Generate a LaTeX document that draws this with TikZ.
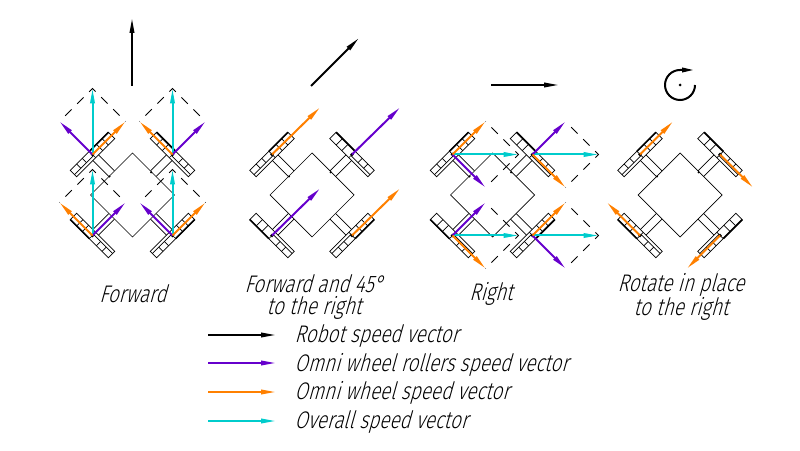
\documentclass[tikz,border=0pt]{standalone}
\usepackage{fontspec}
\setmainfont[UprightFont=* Light,FakeSlant=0.28,FakeStretch=0.79]{Fira Sans}
\usetikzlibrary{arrows.meta,calc}
\definecolor{rollcol}{RGB}{102,0,204}
\definecolor{omnicol}{RGB}{255,128,0}
\definecolor{allcol}{RGB}{0,204,204}
\tikzset{
    part/.style={draw, line width=0.7pt},
    heavy/.style={draw, line width=1.6pt},
    vecarrow/.style={-{Triangle[length=15pt,width=4.5pt]}, line width=2pt},
    robotvec/.style={vecarrow, black},
    rollvec/.style={vecarrow, rollcol},
    omnivec/.style={vecarrow, omnicol},
    allvec/.style={vecarrow, allcol},
    dashbox/.style={draw, line width=0.8pt, dash pattern=on 9pt off 8pt, dash phase=9pt},
    caption/.style={font=\fontsize{24}{22}\selectfont, align=center, inner sep=0pt},
    legendtext/.style={caption, anchor=west},
    wheelunit/.pic={
        \draw[part] (-27,-4.5) rectangle (27,4.5);
        \draw[heavy] (0,4.5) -- (27,4.5);
        \draw[part] (-27,-1.5) -- (0,-1.5);
        \draw[part] (-18,-1.5) -- (-18,4.5) (-10,-1.5) -- (-10,4.5) (0,-4.5) -- (0,4.5) (10,-4.5) -- (10,4.5) (18,-4.5) -- (18,4.5);
        \draw[part] (-4,-4.5) -- (-4,-27) (4,-4.5) -- (4,-27);
    },
    robotbody/.pic={
        \coordinate (-tl) at (-40,40.5);
        \coordinate (-tr) at (40,40.5);
        \coordinate (-bl) at (-40,-40.5);
        \coordinate (-br) at (40,-40.5);
        \draw[part] (-42,0) -- (0,42) -- (42,0) -- (0,-42) -- cycle;
        \path (-tl) pic[rotate=45] {wheelunit};
        \path (-tr) pic[rotate=135,yscale=-1] {wheelunit};
        \path (-bl) pic[rotate=135] {wheelunit};
        \path (-br) pic[rotate=45,yscale=-1] {wheelunit};
        \foreach \hub in {-tl,-tr,-bl,-br} \fill (\hub) circle (1.8);
        \fill (-23,18.5) circle (1.2) (18.7,22.7) circle (1.2);
    }
}
% one speed vector out of a wheel hub
\newcommand{\speedvec}[4]{
    \coordinate (#2-#1) at ($(#2)+(#3,#4)$);
    \draw[#1vec] (#2) -- (#2-#1);
}

\begin{document}
\begin{tikzpicture}[x=1pt,y=1pt]
\useasboundingbox (0,0) rectangle (800,450);

\path (132.5,255) pic (fwd) {robotbody};
\path (312,255) pic (diag) {robotbody};
\path (492.5,255) pic (rgt) {robotbody};
\path (680,255) pic (rot) {robotbody};

% forward
\coordinate (fwdstart) at (132,364);
\coordinate (fwdend) at (132,432);
\draw[robotvec] (fwdstart) -- (fwdend);
\foreach \hub/\rx/\ox in {tl/-33/33, tr/33/-33, bl/33/-33, br/-33/33}{
    \speedvec{all}{fwd-\hub}{0}{66}
    \speedvec{roll}{fwd-\hub}{\rx}{33}
    \speedvec{omni}{fwd-\hub}{\ox}{33}
    \draw[dashbox] (fwd-\hub-roll) -- (fwd-\hub-all) -- (fwd-\hub-omni);
}

% forward and 45
\coordinate (diagstart) at (311,364);
\coordinate (diagend) at (359,412);
\draw[robotvec] (diagstart) -- (diagend);
\speedvec{omni}{diag-tl}{48}{47}
\speedvec{roll}{diag-tr}{48}{47}
\speedvec{roll}{diag-bl}{48}{47}
\speedvec{omni}{diag-br}{48}{47}

% right
\coordinate (rgtstart) at (491,365);
\coordinate (rgtend) at (559,365);
\draw[robotvec] (rgtstart) -- (rgtend);
\foreach \hub/\ry/\oy in {tl/-33/33, tr/33/-33, bl/33/-33, br/-33/33}{
    \speedvec{all}{rgt-\hub}{66}{0}
    \speedvec{roll}{rgt-\hub}{33}{\ry}
    \speedvec{omni}{rgt-\hub}{33}{\oy}
    \draw[dashbox] (rgt-\hub-roll) -- (rgt-\hub-all) -- (rgt-\hub-omni);
}

% rotate
\coordinate (spincentre) at (680,365);
\coordinate (spinstart) at (695,365);
\coordinate (spinend) at (694,380);
\fill (spincentre) circle (1.5);
\draw[robotvec,-{Triangle[length=12pt,width=4.5pt]}] (spinstart) arc[start angle=0,end angle=-270,radius=15] -- (spinend);
\speedvec{omni}{rot-tl}{33}{33}
\speedvec{omni}{rot-tr}{33}{-33}
\speedvec{omni}{rot-bl}{-33}{33}
\speedvec{omni}{rot-br}{-33}{-33}

% captions
\node[caption] (fwdlabel) at (133,156) {Forward};
\node[caption] (diaglabel) at (314,153) {Forward and 45°\\to the right};
\node[caption] (rgtlabel) at (491,156) {Right};
\node[caption] (rotlabel) at (681,153) {Rotate in place\\to the right};

% legend
\node[legendtext] (robotlegend) at (294.5,113.5) {Robot speed vector};
\node[legendtext] (rolllegend) at (294.5,85.5) {Omni wheel rollers speed vector};
\node[legendtext] (omnilegend) at (294.5,57) {Omni wheel speed vector};
\node[legendtext] (alllegend) at (294.5,28) {Overall speed vector};
\coordinate (robotkey) at (208,115);
\coordinate (rollkey) at (208,87);
\coordinate (omnikey) at (208,58);
\coordinate (allkey) at (208,29);
\draw[robotvec] (robotkey) -- ++(68,0);
\draw[rollvec] (rollkey) -- ++(68,0);
\draw[omnivec] (omnikey) -- ++(68,0);
\draw[allvec] (allkey) -- ++(68,0);
\end{tikzpicture}
\end{document}
